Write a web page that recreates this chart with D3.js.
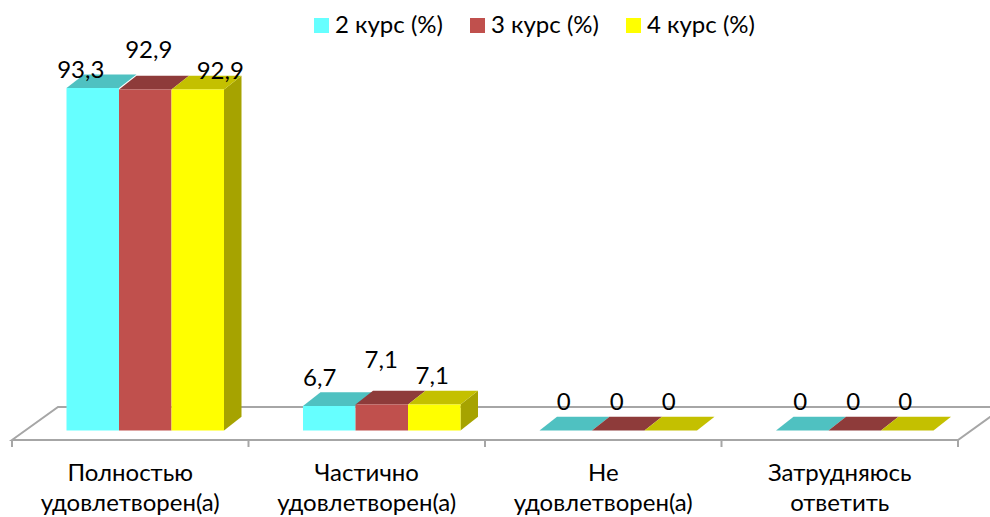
<!DOCTYPE html>
<html><head><meta charset="utf-8">
<script src="https://cdn.jsdelivr.net/npm/d3@7/dist/d3.min.js"></script>
<style>html,body{margin:0;padding:0;background:#fff;overflow:hidden}svg{display:block}text{font-family:Lato,"Open Sans","Noto Sans",sans-serif;fill:#000}</style>
</head><body><svg id="c" width="990" height="517"></svg>
<script>
const categories = [["Полностью","удовлетворен(а)"],["Частично","удовлетворен(а)"],["Не","удовлетворен(а)"],["Затрудняюсь","ответить"]];
const seriesNames = ["2 курс (%)","3 курс (%)","4 курс (%)"];
const course2 = [93.3,6.7,0,0];
const course3 = [92.9,7.1,0,0];
const course4 = [92.9,7.1,0,0];
const seriesValues = [course2,course3,course4];
const fronts = ["#66FFFF","#C0504D","#FFFF00"];
const tops = ["#4FC1C1","#8E3B3A","#C4C000"];
const sides = ["#4FC1C1","#8E3B3A","#A6A300"];
// manual data-label placement, as the original chart has it: [dx from bar centre, baseline]
const labelLayout = [
 [[-12,78],[3.5,58],[22.5,79]],
 [[-9.5,386],[-0.5,368],[-2,384]],
 [[-2,410],[-1.5,410],[-2,410]],
 [[-2,410],[-1.5,410],[-2,410]]
];
const svg = d3.select("#c");
const baseY=430.5, depthX=17.5, depthY=13.7, floorDX=46, floorDY=33, floorY=440;
const FS=24;
const x0 = d3.scaleBand().domain(d3.range(categories.length)).range([12,958]);
const x1 = d3.scaleBand().domain(d3.range(seriesNames.length)).range([0,157.5]);
const groupOffset = 54.5;
const y = d3.scaleLinear().domain([0,100]).range([baseY,baseY-367]);
const gray="#A6A6A6";
const fl = svg.append("g").attr("stroke",gray).attr("stroke-width",2).attr("fill","none");
fl.append("path").attr("d",`M12,${floorY}L${12+floorDX},${floorY-floorDY}H1004L958,${floorY}Z`);
const ticks=[...x0.domain().map(d=>x0(d)),958];
fl.selectAll("line").data(ticks).join("line").attr("x1",d=>d).attr("x2",d=>d).attr("y1",floorY).attr("y2",floorY+7);
const poly=(pts,c)=>svg.append("polygon").attr("points",pts.map(p=>p.join(",")).join(" ")).attr("fill",c);
categories.forEach((cat,i)=>{
  seriesValues.forEach((vals,s)=>{
    const L=x0(i)+groupOffset+x1(s), R=L+x1.bandwidth(), T=y(vals[i]);
    if(s===seriesValues.length-1) poly([[R,baseY],[R+depthX,baseY-depthY],[R+depthX,T-depthY],[R,T]],sides[s]);
    poly([[L,T],[R,T],[R+depthX,T-depthY],[L+depthX,T-depthY]],tops[s]);
    if(vals[i]>0) poly([[L,T],[R,T],[R,baseY],[L,baseY]],fronts[s]);
  });
});
const fmt=v=>String(v).replace(".",",");
categories.forEach((cat,i)=>{
  seriesValues.forEach((vals,s)=>{
    const c=x0(i)+groupOffset+x1(s)+x1.bandwidth()/2;
    svg.append("text").attr("x",c+labelLayout[i][s][0]).attr("y",labelLayout[i][s][1]).attr("text-anchor","middle").attr("font-size",FS).text(fmt(vals[i]));
  });
  cat.forEach((t,k)=>svg.append("text").attr("x",x0(i)+x0.bandwidth()/2).attr("y",481+k*30).attr("text-anchor","middle").attr("font-size",FS).text(t));
});
const legendX=[314,470,626];
seriesNames.forEach((n,s)=>{
  svg.append("rect").attr("x",legendX[s]).attr("y",18).attr("width",15).attr("height",15).attr("fill",fronts[s]);
  svg.append("text").attr("x",legendX[s]+21).attr("y",33).attr("font-size",FS).text(n);
});
</script></body></html>
